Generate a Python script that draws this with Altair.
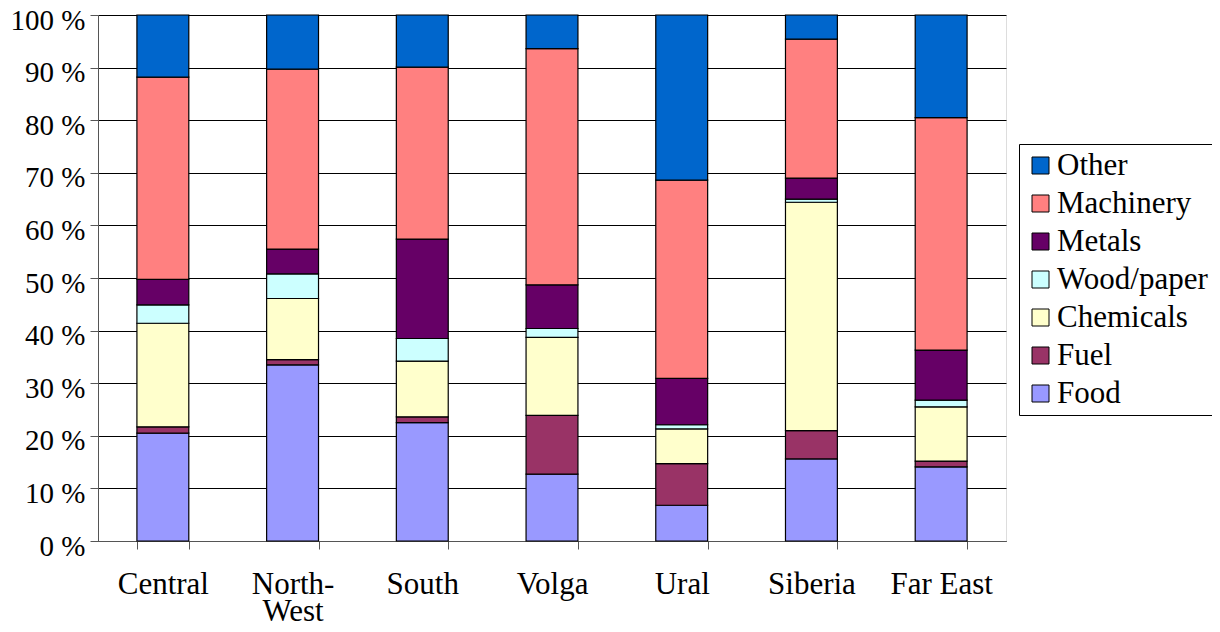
import altair as alt
import pandas as pd

regions = ["Central", "North-West", "South", "Volga", "Ural", "Siberia", "Far East"]
sectors = ["Other", "Machinery", "Metals", "Wood/paper", "Chemicals", "Fuel", "Food"]
colors = ["#0066CC", "#FF8080", "#660066", "#CCFFFF", "#FFFFCC", "#993366", "#9999FF"]

food = [20.5, 33.5, 22.5, 12.7, 6.8, 15.6, 14.1]
fuel = [1.2, 1.0, 1.1, 11.2, 7.9, 5.4, 1.1]
chemicals = [19.7, 11.6, 10.6, 14.8, 6.6, 43.4, 10.3]
wood = [3.5, 4.7, 4.3, 1.7, 0.8, 0.6, 1.3]
metals = [4.85, 4.7, 18.9, 8.3, 8.8, 4.0, 9.5]
machinery = [38.45, 34.2, 32.7, 44.9, 37.7, 26.4, 44.2]
other = [11.8, 10.3, 9.9, 6.4, 31.4, 4.6, 19.5]

series = {"Food": food, "Fuel": fuel, "Chemicals": chemicals, "Wood/paper": wood,
          "Metals": metals, "Machinery": machinery, "Other": other}
stack_rank = {"Food": 0, "Fuel": 1, "Chemicals": 2, "Wood/paper": 3, "Metals": 4, "Machinery": 5, "Other": 6}

rows = []
for s, vals in series.items():
    for r, v in zip(regions, vals):
        rows.append({"region": r, "sector": s, "value": v, "rank": stack_rank[s]})
df = pd.DataFrame(rows)

FONT = "Liberation Serif, Times New Roman, serif"

chart = alt.Chart(df).mark_bar(stroke="black", strokeWidth=1.2).encode(
    x=alt.X("region:N", sort=regions, title=None,
            scale=alt.Scale(paddingInner=0.6, paddingOuter=0.3),
            axis=alt.Axis(labelAngle=0, labelFont=FONT, labelFontSize=31, labelColor="black",
                          tickBand="extent", tickSize=8, tickColor="#555", domainColor="#555",
                          labelPadding=20, labelLineHeight=27,
                          labelExpr="datum.label == 'North-West' ? ['North-', 'West'] : datum.label")),
    y=alt.Y("value:Q", stack="normalize", title=None,
            scale=alt.Scale(domain=[0, 1]),
            axis=alt.Axis(values=[i / 10 for i in range(11)], labelFont=FONT, labelFontSize=29,
                          labelColor="black", labelExpr="round(datum.value*100) + ' %'",
                          tickSize=8, tickColor="#555", domainColor="#555", labelPadding=5,
                          labelOffset=5,
                          grid=True, gridColor="black", gridWidth=1)),
    color=alt.Color("sector:N", scale=alt.Scale(domain=sectors, range=colors),
                    legend=alt.Legend(title=None, orient="none", legendX=921, legendY=129,
                                      symbolType="square", symbolSize=289, symbolStrokeColor="black",
                                      symbolStrokeWidth=1, labelFont=FONT, labelFontSize=31,
                                      labelColor="black", strokeColor="black", padding=6,
                                      rowPadding=6, labelOffset=1, labelLimit=300)),
    order=alt.Order("rank:Q", sort="ascending"),
).properties(
    width=908, height=526,
    autosize=alt.AutoSizeParams(type="none"),
    padding={"left": 90, "top": 7, "right": 206, "bottom": 83},
).configure_view(stroke="#888", strokeWidth=1).configure_legend(
    labelFont=FONT, labelFontSize=31, labelColor="black"
).configure(background="white", font=FONT)

chart.save("out.html", embed_options={"renderer": "svg", "actions": False})
